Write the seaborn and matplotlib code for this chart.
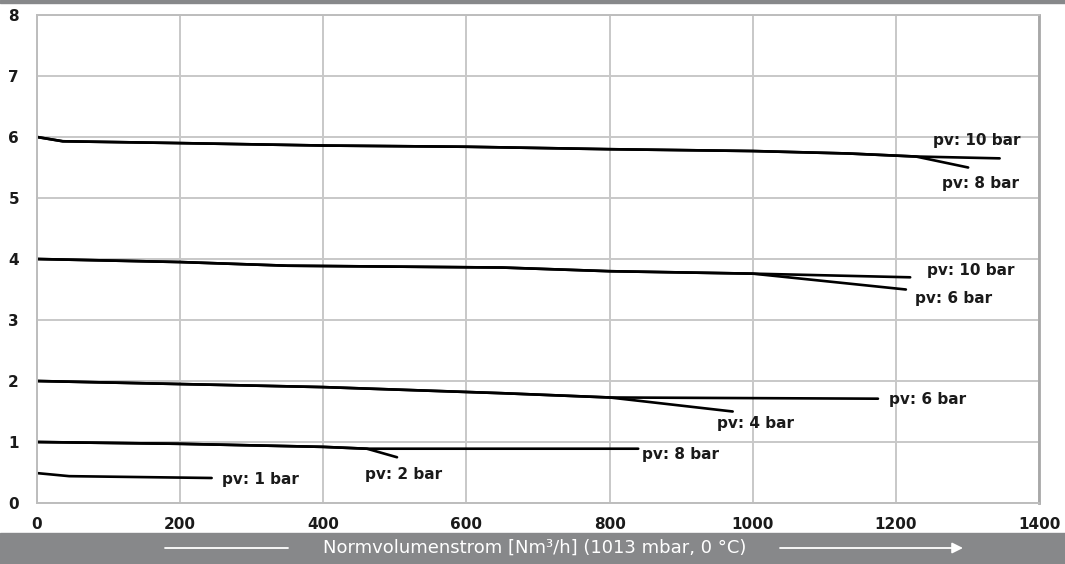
import numpy as np
import pandas as pd
import seaborn as sns
import matplotlib.pyplot as plt
from matplotlib.patches import Rectangle, FancyArrowPatch

# --- Daten ---
# Kurve 6 bar Hinterdruck
k6_x = [0, 36, 200, 400, 600, 800, 1000, 1133, 1228]
k6_y = [6.0, 5.93, 5.9, 5.86, 5.84, 5.8, 5.77, 5.73, 5.68]
k6_10bar_x, k6_10bar_y = [1345], [5.65]
k6_8bar_x, k6_8bar_y = [1301], [5.5]

# Kurve 4 bar Hinterdruck
k4_x = [0, 200, 350, 650, 800, 1000]
k4_y = [4.0, 3.95, 3.89, 3.86, 3.8, 3.76]
k4_10bar_x, k4_10bar_y = [1220], [3.7]
k4_6bar_x, k4_6bar_y = [1214], [3.5]

# Kurve 2 bar Hinterdruck
k2_x = [0, 200, 400, 650, 800]
k2_y = [2.0, 1.95, 1.9, 1.8, 1.73]
k2_6bar_x, k2_6bar_y = [1175], [1.71]
k2_4bar_x, k2_4bar_y = [972], [1.5]

# Kurve 1 bar Hinterdruck
k1_x = [0, 200, 400, 461]
k1_y = [1.0, 0.97, 0.92, 0.89]
k1_8bar_x, k1_8bar_y = [840], [0.89]
k1_2bar_x, k1_2bar_y = [503], [0.75]

# Kurve 0,5 bar Hinterdruck
k05_x = [0, 45, 244]
k05_y = [0.49, 0.44, 0.41]

labels = ["pv: 10 bar", "pv: 8 bar", "pv: 10 bar", "pv: 6 bar", "pv: 6 bar",
          "pv: 4 bar", "pv: 8 bar", "pv: 2 bar", "pv: 1 bar"]
label_x = [1252, 1264, 1243, 1227, 1190, 950, 845, 458, 258]
label_y = [5.95, 5.23, 3.81, 3.35, 1.69, 1.3, 0.79, 0.46, 0.38]

xticks = [0, 200, 400, 600, 800, 1000, 1200, 1400]
yticks = [0, 1, 2, 3, 4, 5, 6, 7, 8]

segments = [
    ("6-10", k6_x + k6_10bar_x, k6_y + k6_10bar_y),
    ("6-8", k6_x + k6_8bar_x, k6_y + k6_8bar_y),
    ("4-10", k4_x + k4_10bar_x, k4_y + k4_10bar_y),
    ("4-6", k4_x + k4_6bar_x, k4_y + k4_6bar_y),
    ("2-6", k2_x + k2_6bar_x, k2_y + k2_6bar_y),
    ("2-4", k2_x + k2_4bar_x, k2_y + k2_4bar_y),
    ("1-8", k1_x + k1_8bar_x, k1_y + k1_8bar_y),
    ("1-2", k1_x + k1_2bar_x, k1_y + k1_2bar_y),
    ("05-1", k05_x, k05_y),
]
rows = []
for name, xs, ys in segments:
    for i, (x, y) in enumerate(zip(xs, ys)):
        rows.append({"kurve": name, "ordnung": i, "q": x, "p": y})
df = pd.DataFrame(rows)

sns.set_style("white", {"axes.edgecolor": "#b4b4b4"})
plt.rcParams["font.family"] = ["DejaVu Sans"]

fig = plt.figure(figsize=(10.65, 5.64), dpi=100)
ax = fig.add_axes([37 / 1065, 61 / 564, 1002 / 1065, 488 / 564])

ax.grid(True, color="#c8c8c8", linewidth=1.4)
ax.set_axisbelow(True)

sns.lineplot(data=df, x="q", y="p", units="kurve", estimator=None, sort=False,
             color="black", linewidth=1.9, ax=ax)

for t, x, y in zip(labels, label_x, label_y):
    ax.text(x, y, t, fontsize=11, fontweight="bold", color="#1a1a1a",
            ha="left", va="center")

ax.set_xlim(0, 1400)
ax.set_ylim(0, 8)
ax.set_xticks(xticks)
ax.set_yticks(yticks)
ax.set_xticklabels([str(v) for v in xticks], fontsize=11, fontweight="bold", color="#1a1a1a")
ax.set_yticklabels([str(v) for v in yticks], fontsize=11, fontweight="bold", color="#1a1a1a")
ax.tick_params(axis="y", length=4, color="#c8c8c8", width=1.4, pad=9)
ax.tick_params(axis="x", length=3, color="#c8c8c8", width=1.4, pad=7)
ax.set_xlabel("")
ax.set_ylabel("")
for s in ax.spines.values():
    s.set_linewidth(1.4)
    s.set_color("#bdbdbd")
ax.spines["right"].set_color("#a8a8a8")
ax.spines["right"].set_linewidth(2)

# graue Balken oben und unten
grau = "#87888a"
fig.add_artist(Rectangle((0, 1 - 3 / 564), 1, 3 / 564, transform=fig.transFigure,
                         color=grau, zorder=-1))
fig.add_artist(Rectangle((0, 0), 1, 31 / 564, transform=fig.transFigure,
                         color=grau, zorder=-1))
fig.text(535 / 1065, 16 / 564, "Normvolumenstrom [Nm³/h] (1013 mbar, 0 °C)",
         color="white", fontsize=13, ha="center", va="center", zorder=5)
fig.add_artist(plt.Line2D([165 / 1065, 288 / 1065], [16 / 564, 16 / 564],
                          transform=fig.transFigure, color="white", linewidth=1.3,
                          zorder=5))
fig.add_artist(FancyArrowPatch((780 / 1065, 16 / 564), (963 / 1065, 16 / 564),
                               transform=fig.transFigure, arrowstyle="-|>",
                               color="white", lw=1.3, mutation_scale=16,
                               shrinkA=0, shrinkB=0, zorder=5))

fig.savefig("out.png", dpi=100)
